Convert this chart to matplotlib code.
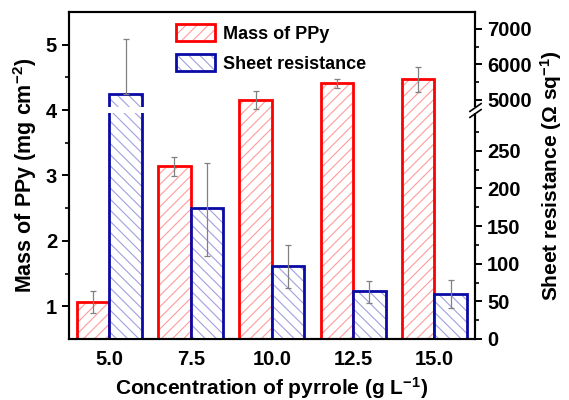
import numpy as np
import matplotlib.pyplot as plt
from matplotlib.patches import Patch, Rectangle
from matplotlib.ticker import FixedLocator

plt.rcParams['font.family'] = 'Liberation Sans'
plt.rcParams['font.weight'] = 'bold'
plt.rcParams['axes.labelweight'] = 'bold'
plt.rcParams['mathtext.fontset'] = 'custom'
plt.rcParams['mathtext.rm'] = 'Liberation Sans:bold'
plt.rcParams['mathtext.bf'] = 'Liberation Sans:bold'
plt.rcParams['mathtext.it'] = 'Liberation Sans:bold:italic'
plt.rcParams['hatch.linewidth'] = 0.8

# --- data ---
concentration = ['5.0', '7.5', '10.0', '12.5', '15.0']
mass = [1.07, 3.14, 4.15, 4.41, 4.47]
mass_err = [0.17, 0.15, 0.14, 0.07, 0.19]
resistance = [5170, 174, 97, 64, 60]
res_err_low = [0, 64, 29, 16, 19]
res_err_high = [1550, 59, 28, 13, 18]

# broken right axis: 0-300 and 4800-7500 on one scale
brk_val = [0, 300, 4800, 7500]
brk_pos = [0, 226, 232, 327.9]


def fwd(v):
    return np.interp(v, brk_val, brk_pos)


def inv(p):
    return np.interp(p, brk_pos, brk_val)


red, red_hatch = '#FF0000', '#FF9C9C'
blue, blue_hatch = '#0A0AA5', '#A0A0E0'
err_col = '#808080'

fig = plt.figure(figsize=(5.69, 4.0), dpi=100)
ax = fig.add_axes([0.121, 0.1525, 0.714, 0.8175])
ax2 = ax.twinx()
ax2.set_yscale('function', functions=(fwd, inv))

x = np.arange(len(concentration))
w = 0.4

# mass of PPy (left axis)
ax.bar(x - w / 2, mass, w, color='white', edgecolor=red_hatch, hatch='///', linewidth=0)
ax.bar(x - w / 2, mass, w, fill=False, edgecolor=red, linewidth=2)
ax.errorbar(x - w / 2, mass, yerr=mass_err, fmt='none', ecolor=err_col,
            elinewidth=0.9, capsize=2.5, capthick=0.9, zorder=3)

# sheet resistance (right axis)
ax2.bar(x + w / 2, resistance, w, color='white', edgecolor=blue_hatch, hatch='\\\\\\', linewidth=0)
ax2.bar(x + w / 2, resistance, w, fill=False, edgecolor=blue, linewidth=2)
ax2.errorbar(x + w / 2, resistance, yerr=[res_err_low, res_err_high], fmt='none',
             ecolor=err_col, elinewidth=0.9, capsize=2.5, capthick=0.9, zorder=3)

# white gap through the tall bar at the axis break
ax2.add_patch(Rectangle((x[0] - 0.03, brk_val[1]), w + 0.06,
                        brk_val[2] - brk_val[1], facecolor='white', edgecolor='none', zorder=4))
# gap in the right spine + break marks
ax2.add_patch(Rectangle((0.99, brk_val[1]), 0.03, brk_val[2] - brk_val[1],
                        transform=ax2.get_yaxis_transform(), facecolor='white',
                        edgecolor='none', zorder=5, clip_on=False))
ax2.plot([1, 1], [brk_val[1], brk_val[2]], transform=ax2.get_yaxis_transform(),
         marker=[(-1, -0.7), (1, 0.7)], markersize=9, linestyle='none',
         mec='k', mew=1.2, clip_on=False, zorder=6)

ax.set_xlim(-0.5, len(concentration) - 0.5)
ax.set_ylim(0.5, 5.5)
ax2.set_ylim(0, 7475)

ax.set_xticks(x)
ax.set_xticklabels(concentration)
ax.set_yticks([1, 2, 3, 4, 5])
ax.set_yticks([1.5, 2.5, 3.5, 4.5], minor=True)
ax2.yaxis.set_major_locator(FixedLocator([0, 50, 100, 150, 200, 250, 5000, 6000, 7000]))
ax2.yaxis.set_minor_locator(FixedLocator([25, 75, 125, 175, 225, 275, 5500, 6500]))
ax2.yaxis.set_major_formatter(plt.FuncFormatter(lambda v, p: f'{v:.0f}'))

ax.tick_params(axis='x', length=0, labelsize=14.5, pad=8)
for a in (ax, ax2):
    a.tick_params(axis='y', which='major', direction='out', length=5, width=1.4, labelsize=14.5)
    a.tick_params(axis='y', which='minor', direction='out', length=3, width=1.2)
    for s in a.spines.values():
        s.set_linewidth(1.5)

ax.set_xlabel('Concentration of pyrrole (g L$^{-1}$)', fontsize=15, labelpad=4)
ax.set_ylabel('Mass of PPy (mg cm$^{-2}$)', fontsize=15.5, labelpad=5)
ax2.set_ylabel('Sheet resistance (\u03a9 sq$^{-1}$)', fontsize=15, labelpad=5)

handles = [(Patch(facecolor='white', edgecolor=red_hatch, hatch='///', linewidth=0),
            Patch(fill=False, edgecolor=red, linewidth=2)),
           (Patch(facecolor='white', edgecolor=blue_hatch, hatch='\\\\\\', linewidth=0),
            Patch(fill=False, edgecolor=blue, linewidth=2))]
leg = ax2.legend(handles, ['Mass of PPy', 'Sheet resistance'], loc='upper left',
                 bbox_to_anchor=(0.245, 0.985), frameon=False, fontsize=13,
                 handlelength=2.2, handleheight=1.1, labelspacing=0.6,
                 handletextpad=0.4, borderaxespad=0)
leg.set_zorder(10)

fig.savefig('out.png', dpi=100)
